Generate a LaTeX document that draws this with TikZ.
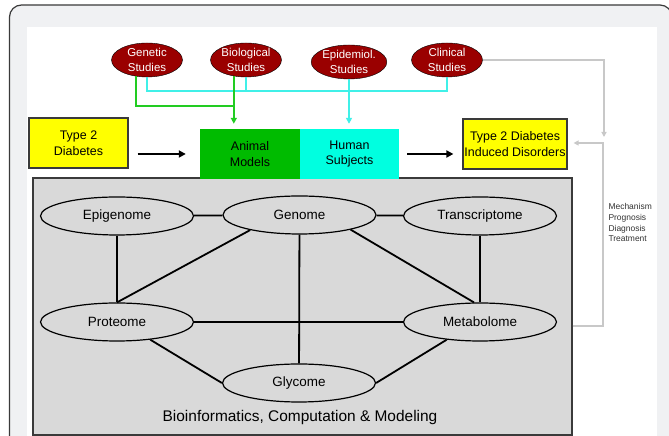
\documentclass[tikz,border=0pt]{standalone}
\usepackage{fontspec}
\setmainfont{Liberation Sans}
\usetikzlibrary{arrows.meta,shapes.geometric}
\definecolor{panelgray}{HTML}{F0F1F3}
\definecolor{framegray}{HTML}{3A3A3A}
\definecolor{studyred}{HTML}{9A0000}
\definecolor{boxyellow}{HTML}{FFFF00}
\definecolor{animalgreen}{HTML}{00BB00}
\definecolor{humancyan}{HTML}{00FFE0}
\definecolor{linkgreen}{HTML}{22CC22}
\definecolor{linkcyan}{HTML}{40F0E8}
\definecolor{omicgray}{HTML}{D9D9D9}
\definecolor{fbgray}{HTML}{C8C8C8}

\begin{document}
\begin{tikzpicture}[x=1bp,y=1bp]
	\tikzstyle{study}=[ellipse,draw=black,fill=studyred,text=white,minimum width=71bp,minimum height=34bp,inner sep=0pt,align=center,font=\fontsize{11.5}{15}\selectfont]
	\tikzstyle{omic}=[ellipse,draw=black,line width=1.2bp,fill=omicgray,minimum width=153bp,minimum height=38bp,inner sep=0pt,font=\fontsize{13.5}{15}\selectfont]
	\tikzstyle{box}=[rectangle,minimum height=50bp,inner sep=0pt,align=center,font=\fontsize{12.5}{16}\selectfont]
	\tikzstyle{ybox}=[box,draw=framegray,line width=1.2bp,fill=boxyellow]
	\tikzstyle{link}=[line width=1.8bp]
	\tikzstyle{flow}=[line width=2bp,-{Triangle[length=7bp,width=7bp]}]
	\tikzstyle{glink}=[line width=1.5bp,linkgreen]
	\tikzstyle{clink}=[line width=1.5bp,linkcyan]
	\tikzstyle{feedback}=[line width=1.5bp,fbgray,-{Triangle[length=5bp,width=5bp]}]
	\useasboundingbox (0,0) rectangle (669,436);
	\clip (0,0) rectangle (669,436);
	\draw [framegray,fill=panelgray,line width=1.2bp,rounded corners=12bp] (9.5,-20) rectangle (672,431);
	\fill [white] (27,-1) rectangle (657,409);
	\node (genet) at (147,376) [study] {Genetic\\Studies};
	\node (bio) at (246,376) [study] {Biological\\Studies};
	\node (epi) at (349,374) [study] {Epidemiol.\\Studies};
	\node (clin) at (447,376) [study] {Clinical\\Studies};
	\node (omics) at (302.5,129.5) [draw=framegray,line width=1.3bp,fill=omicgray,minimum width=539bp,minimum height=257bp] {};
	\node (t2d) at (78.5,293) [ybox,minimum width=99bp] {Type 2\\Diabetes};
	\node (animal) at (250,282) [box,fill=animalgreen,minimum width=100bp] {Animal\\Models};
	\node (human) at (349.5,282) [box,fill=humancyan,minimum width=99bp] {Human\\Subjects};
	\node (dis) at (515,292) [ybox,minimum width=104bp] {Type 2 Diabetes\\Induced Disorders};
	\node (epig) at (117,220) [omic] {Epigenome};
	\node (genome) at (299.5,221) [omic] {Genome};
	\node (trans) at (480,220) [omic] {Transcriptome};
	\node (prot) at (117,114) [omic] {Proteome};
	\node (meta) at (480,114) [omic] {Metabolome};
	\node (gly) at (299,53) [omic] {Glycome};
	\node (bcm) at (300,18) [font=\fontsize{15.5}{18}\selectfont] {Bioinformatics, Computation \& Modeling};
	\node (uses) at (605,236) [anchor=north west,align=left,text=black!80,font=\fontsize{8.5}{10.8}\selectfont] {Mechanism\\Prognosis\\Diagnosis\\Treatment};
	\coordinate (gjoin) at (234,330);
	\coordinate (cjoin) at (0,345);
	\coordinate (fbtip) at (604,299);
	\coordinate (fbturn) at (603,293);
	\draw [clink] (genet.south) |- (clin.south |- cjoin) -- (clin.south);
	\draw [clink] (bio.south) -- (bio.south |- cjoin);
	\draw [clink,-{Triangle[length=6bp,width=6bp]},shorten >=5bp] (epi.south) -- (epi.south |- human.north);
	\draw [glink] (genet.236) |- (gjoin);
	\draw [glink,-{Triangle[length=6bp,width=6bp]},shorten >=5bp] (bio.233) -- (bio.233 |- animal.north);
	\draw [flow,shorten <=9bp,shorten >=14bp] (t2d.east |- animal.west) -- (animal.west);
	\draw [flow,shorten <=8bp,shorten >=9bp] (human.east) -- (human.east -| dis.west);
	\draw [feedback] (clin.east) -| (fbtip);
	\draw [feedback,shorten >=6bp] ([yshift=-4bp]omics.east |- meta.east) -| (fbturn) -- (fbturn -| dis.east);
	\draw [link] (epig) -- (genome);
	\draw [link] (genome) -- (trans);
	\draw [link] (epig) -- (prot);
	\draw [link] (trans) -- (meta);
	\draw [link] (genome.197) -- (prot.north);
	\draw [link] (genome.-16) -- (meta.107);
	\draw [link] (prot) -- (meta);
	\draw [link] (genome) -- (gly);
	\draw [link] (prot.-28) -- (gly.west);
	\draw [link] (meta.-152) -- (gly.east);
\end{tikzpicture}
\end{document}
